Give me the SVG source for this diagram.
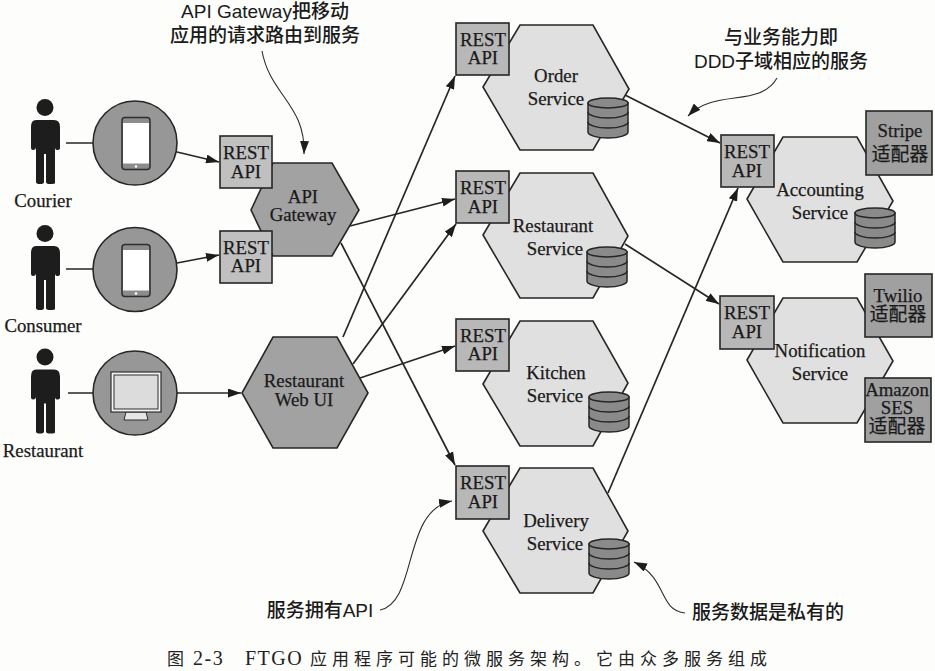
<svg xmlns="http://www.w3.org/2000/svg" width="935" height="671" viewBox="0 0 935 671">
<style>
.s{stroke:#262626;stroke-width:1.6}
.gw{fill:#a2a2a2}.svc{fill:#e0e0e0}.r1{fill:#c0c0c0}.r2{fill:#b8b8b8}.ad{fill:#a0a0a0}.cl{fill:#979797}
.db{fill:#8a8a8a;stroke:#262626;stroke-width:1.5}
.t{font-family:"Liberation Serif","Noto Sans CJK SC",serif;font-size:18.8px;fill:#1a1a1a;stroke:#1a1a1a;stroke-width:.25px;text-anchor:middle}
.n{font-family:"Liberation Sans","Noto Sans CJK SC",sans-serif;font-size:19px;font-weight:500;fill:#1a1a1a;text-anchor:middle}
.c{font-family:"Liberation Serif","Noto Sans CJK SC",serif;font-size:20px;letter-spacing:1.5px;fill:#222}
.k{font-family:"Noto Sans CJK SC",serif;font-size:17px;letter-spacing:5px;fill:#222}
.l{fill:none;stroke:#262626;stroke-width:1.7}
.a{fill:none;stroke:#2e2e2e;stroke-width:1.1}
</style>
<defs>
<marker id="h" viewBox="0 0 13 9" refX="13" refY="4.5" markerWidth="13" markerHeight="9" markerUnits="userSpaceOnUse" orient="auto"><path d="M0,0L13,4.5L0,9z" fill="#1d1d1d"/></marker>
<symbol id="person" overflow="visible"><circle cx="45" cy="107.500" r="8.500" fill="#1d1d1d"/><path d="M36,120H54Q60,120 60,127V148Q60,150 57,150Q55,150 55,147V183Q55,184 50,184Q46,184 46,182V154H44V182Q44,184 40,184Q36,184 36,182V147Q36,150 33,150Q31,150 31,148V127Q31,120 36,120z" fill="#1d1d1d"/></symbol>
<symbol id="phone" overflow="visible"><rect x="122" y="117.500" width="28" height="52" rx="3" fill="#8c8c8c" stroke="#2e2e2e" stroke-width="1.500"/><rect x="123" y="123" width="26" height="40.500" fill="#fff"/><circle cx="136" cy="166.500" r="1.300" fill="#fff"/></symbol>
<symbol id="cyl" overflow="visible"><path class="db" d="M0,6V35C0,38 8,41 20,41S40,38 40,35V6z"/><path d="M0,15C0,18 8,21 20,21S40,18 40,15M0,25C0,28 8,31 20,31S40,28 40,25" fill="none" stroke="#262626" stroke-width="1.500"/><ellipse cx="20" cy="6" rx="20" ry="5" class="db"/></symbol>
</defs>
<rect width="935" height="671" fill="#fdfdfb"/>

<g id="connectors">
<path class="l" d="M66,143H93M66,269H93M68,393H93"/>
<path class="l" marker-end="url(#h)" d="M177,152L219,162"/>
<path class="l" marker-end="url(#h)" d="M177,263L219,255"/>
<path class="l" marker-end="url(#h)" d="M177,393H241"/>
<path class="l" marker-end="url(#h)" d="M350,226L455,199"/>
<path class="l" marker-end="url(#h)" d="M341,243L455,465"/>
<path class="l" marker-end="url(#h)" d="M343,337L455,76"/>
<path class="l" marker-end="url(#h)" d="M353,364L456,224"/>
<path class="l" marker-end="url(#h)" d="M360,378L455,346"/>
<path class="l" marker-end="url(#h)" d="M625,95L720,143"/>
<path class="l" marker-end="url(#h)" d="M625,244L719,304"/>
<path class="l" marker-end="url(#h)" d="M608,493L738,188"/>
<path class="a" marker-end="url(#h)" d="M262,51C270,95 306,105 304,154"/>
<path class="a" marker-end="url(#h)" d="M777,78C760,108 715,88 688,116"/>
<path class="a" marker-end="url(#h)" d="M380,610C418,602 402,510 452,501"/>
<path class="a" marker-end="url(#h)" d="M685,613C658,610 668,578 634,562"/>
</g>

<g id="courier"><use href="#person"/><text class="t" x="43" y="207">Courier</text></g>
<g id="consumer"><use href="#person" y="126"/><text class="t" x="43" y="332">Consumer</text></g>
<g id="restaurant"><use href="#person" y="249.500"/><text class="t" x="43" y="457">Restaurant</text></g>

<g id="courier-app"><circle class="s cl" cx="135" cy="143" r="42"/><use href="#phone"/></g>
<g id="consumer-app"><circle class="s cl" cx="135" cy="269.500" r="42"/><use href="#phone" y="127"/></g>
<g id="restaurant-app"><circle class="s cl" cx="135" cy="393" r="42"/>
<path d="M126,412H146L148,420H124z" fill="#e6e6e6" stroke="#2e2e2e"/>
<rect x="111" y="372" width="50" height="40" fill="#f4f4f4" stroke="#2e2e2e" stroke-width="1.200"/>
<rect x="114" y="375" width="44" height="34" fill="#dcdcdc" stroke="#2e2e2e" stroke-width="1"/></g>

<g id="api-gateway"><path class="s gw" d="M251,210L273,163H332L359,210L332,256H273z"/>
<text class="t" x="303" y="203">API</text><text class="t" x="303" y="221">Gateway</text></g>
<g id="gw-rest-1"><rect class="s r1" x="220" y="136" width="52" height="52"/><text class="t" x="246" y="159">REST</text><text class="t" x="246" y="178">API</text></g>
<g id="gw-rest-2"><rect class="s r1" x="220" y="231" width="52" height="52"/><text class="t" x="246" y="254">REST</text><text class="t" x="246" y="272">API</text></g>

<g id="restaurant-web-ui"><path class="s gw" d="M242,393L273,337H337L368,393L337,448H273z"/>
<text class="t" x="304" y="387">Restaurant</text><text class="t" x="304" y="406">Web UI</text></g>

<g id="order-service"><path class="s svc" d="M483,87L520,25H593L629,89L593,150H520z"/>
<rect class="s r2" x="456" y="23" width="53" height="52"/><text class="t" x="483" y="46">REST</text><text class="t" x="483" y="64">API</text>
<text class="t" x="556" y="82">Order</text><text class="t" x="556" y="105">Service</text><use href="#cyl" x="588" y="97"/></g>

<g id="restaurant-service"><path class="s svc" d="M483,235L520,173H593L628,236L593,298H520z"/>
<rect class="s r2" x="456" y="171" width="53" height="52"/><text class="t" x="483" y="194">REST</text><text class="t" x="483" y="213">API</text>
<text class="t" x="553" y="232">Restaurant</text><text class="t" x="555" y="255">Service</text><use href="#cyl" x="587" y="246"/></g>

<g id="kitchen-service"><path class="s svc" d="M483,384L520,321H593L628,383L593,446H520z"/>
<rect class="s r2" x="456" y="319" width="53" height="52"/><text class="t" x="483" y="342">REST</text><text class="t" x="483" y="360">API</text>
<text class="t" x="556" y="379">Kitchen</text><text class="t" x="555" y="402">Service</text><use href="#cyl" x="589" y="391"/></g>

<g id="delivery-service"><path class="s svc" d="M483,531L520,468H593L628,531L593,593H520z"/>
<rect class="s r2" x="456" y="466" width="53" height="53"/><text class="t" x="483" y="489">REST</text><text class="t" x="483" y="508">API</text>
<text class="t" x="556" y="527">Delivery</text><text class="t" x="555" y="550">Service</text><use href="#cyl" x="589" y="538"/></g>

<g id="accounting-service"><path class="s svc" d="M747,199L783,137H857L893,201L857,262H783z"/>
<rect class="s r2" x="721" y="135" width="53" height="52"/><text class="t" x="747" y="158">REST</text><text class="t" x="747" y="177">API</text>
<text class="t" x="820" y="196">Accounting</text><text class="t" x="820" y="219">Service</text><use href="#cyl" x="855" y="207"/>
<g id="stripe-adapter"><rect class="s ad" x="866" y="111" width="66" height="64"/><text class="t" x="900" y="137">Stripe</text><text class="t" x="900" y="161">适配器</text></g></g>

<g id="notification-service"><path class="s svc" d="M747,360L783,298H857L893,361L857,423H783z"/>
<rect class="s r2" x="720" y="296" width="54" height="53"/><text class="t" x="747" y="319">REST</text><text class="t" x="747" y="338">API</text>
<text class="t" x="820" y="357">Notification</text><text class="t" x="820" y="380">Service</text>
<g id="twilio-adapter"><rect class="s ad" x="865" y="274" width="67" height="63"/><text class="t" x="898" y="302">Twilio</text><text class="t" x="898" y="321">适配器</text></g>
<g id="amazon-adapter"><rect class="s ad" x="865" y="378" width="66" height="64"/><text class="t" x="897" y="396">Amazon</text><text class="t" x="897" y="414">SES</text><text class="t" x="897" y="433">适配器</text></g></g>

<text class="n" x="265" y="18">API Gateway把移动</text>
<text class="n" x="265" y="42">应用的请求路由到服务</text>
<text class="n" x="781" y="44">与业务能力即</text>
<text class="n" x="781" y="68">DDD子域相应的服务</text>
<text class="n" x="320" y="617">服务拥有API</text>
<text class="n" x="768" y="619">服务数据是私有的</text>
<text class="k" x="167" y="665">图</text>
<text class="c" x="193" y="665">2-3</text>
<text class="c" x="245" y="665">FTGO</text>
<text class="k" x="310" y="665">应用程序可能的微服务架构。它由众多服务组成</text>
</svg>
